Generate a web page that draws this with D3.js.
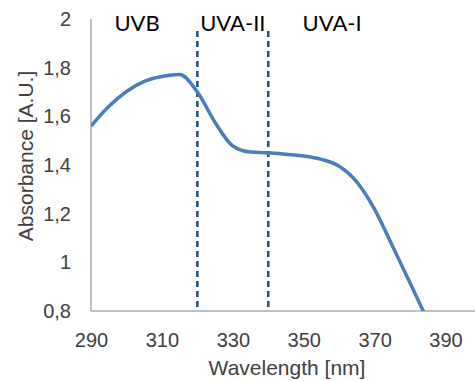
<!DOCTYPE html>
<html lang="en">
<head>
<meta charset="utf-8">
<title>Absorbance spectrum</title>
<script src="https://cdn.jsdelivr.net/npm/d3@7"></script>
<style>
  body { margin: 0; background: #fff; }
  .tick text { font-family: "Liberation Sans", Arial, sans-serif; font-size: 20px; fill: #404040; }
</style>
</head>
<body>
<script>
// data
var wavelength = [290, 295, 300, 305, 310, 315, 320, 325, 330, 335, 340, 345, 350, 355, 360, 365, 370, 375, 380, 385];
var absorbance = [1.56, 1.640, 1.702, 1.744, 1.764, 1.772, 1.700, 1.575, 1.478, 1.453, 1.450, 1.444, 1.437, 1.423, 1.395, 1.330, 1.218, 1.068, 0.915, 0.76];
var xTicks = [290, 310, 330, 350, 370, 390];
var yTicks = [0.8, 1, 1.2, 1.4, 1.6, 1.8, 2];
var bands = ["UVB", "UVA-II", "UVA-I"];
var bandX = [303, 330, 358];
var borders = [320, 340];

var w = 475, h = 381;
var margin = {left: 91, top: 19, bottom: 70};

var svg = d3.select("body").append("svg")
  .attr("width", w)
  .attr("height", h);

var x = d3.scaleLinear().domain([290, 400]).range([margin.left, 481]);
var y = d3.scaleLinear().domain([0.8, 2]).range([h - margin.bottom, margin.top]);

svg.append("clipPath").attr("id", "clip")
  .append("rect")
  .attr("x", margin.left).attr("y", 0)
  .attr("width", w).attr("height", y(0.8));

// axes
var xAxis = svg.append("g")
  .attr("transform", "translate(0," + y(0.8) + ")")
  .call(d3.axisBottom(x).tickValues(xTicks).tickSize(0).tickPadding(22));
var yAxis = svg.append("g")
  .attr("transform", "translate(" + margin.left + ",0)")
  .call(d3.axisLeft(y).tickValues(yTicks).tickSize(0).tickPadding(20)
    .tickFormat(function(d) { return String(d).replace(".", ","); }));

[xAxis, yAxis].forEach(function(a) {
  a.select(".domain").attr("stroke", "#bfbfbf").attr("stroke-width", 2);
});
xAxis.select(".domain").attr("d", "M" + margin.left + ",0H" + w);
yAxis.select(".domain").attr("d", "M0," + y(0.8) + "V" + y(2));

// region borders
svg.selectAll("line.border")
  .data(borders)
  .enter()
  .append("line")
  .attr("class", "border")
  .attr("x1", function(d) { return x(d); })
  .attr("x2", function(d) { return x(d); })
  .attr("y1", 31)
  .attr("y2", y(0.8))
  .attr("stroke", "#1f4e79")
  .attr("stroke-width", 2.5)
  .attr("stroke-dasharray", "6,4");

// spectrum
var line = d3.line()
  .x(function(d, i) { return x(wavelength[i]); })
  .y(function(d) { return y(d); })
  .curve(d3.curveMonotoneX);

svg.append("path")
  .datum(absorbance)
  .attr("clip-path", "url(#clip)")
  .attr("d", line)
  .attr("fill", "none")
  .attr("stroke", "#4a7ebb")
  .attr("stroke-width", 3.5)
  .attr("stroke-linejoin", "round");

// band labels
svg.selectAll("text.band")
  .data(bands)
  .enter()
  .append("text")
  .attr("class", "band")
  .attr("x", function(d, i) { return x(bandX[i]); })
  .attr("y", 31)
  .attr("text-anchor", "middle")
  .attr("font-family", "Lato, 'Open Sans', sans-serif")
  .attr("font-size", "22px")
  .attr("fill", "#000")
  .text(function(d) { return d; });

// axis titles
svg.append("text")
  .attr("x", 287)
  .attr("y", 375)
  .attr("text-anchor", "middle")
  .attr("font-family", "'Liberation Sans', Arial, sans-serif")
  .attr("font-size", "21px")
  .attr("fill", "#404040")
  .text("Wavelength [nm]");

svg.append("text")
  .attr("transform", "translate(33,156) rotate(-90)")
  .attr("text-anchor", "middle")
  .attr("font-family", "'Liberation Sans', Arial, sans-serif")
  .attr("font-size", "21px")
  .attr("fill", "#404040")
  .text("Absorbance [A.U.]");
</script>
</body>
</html>
